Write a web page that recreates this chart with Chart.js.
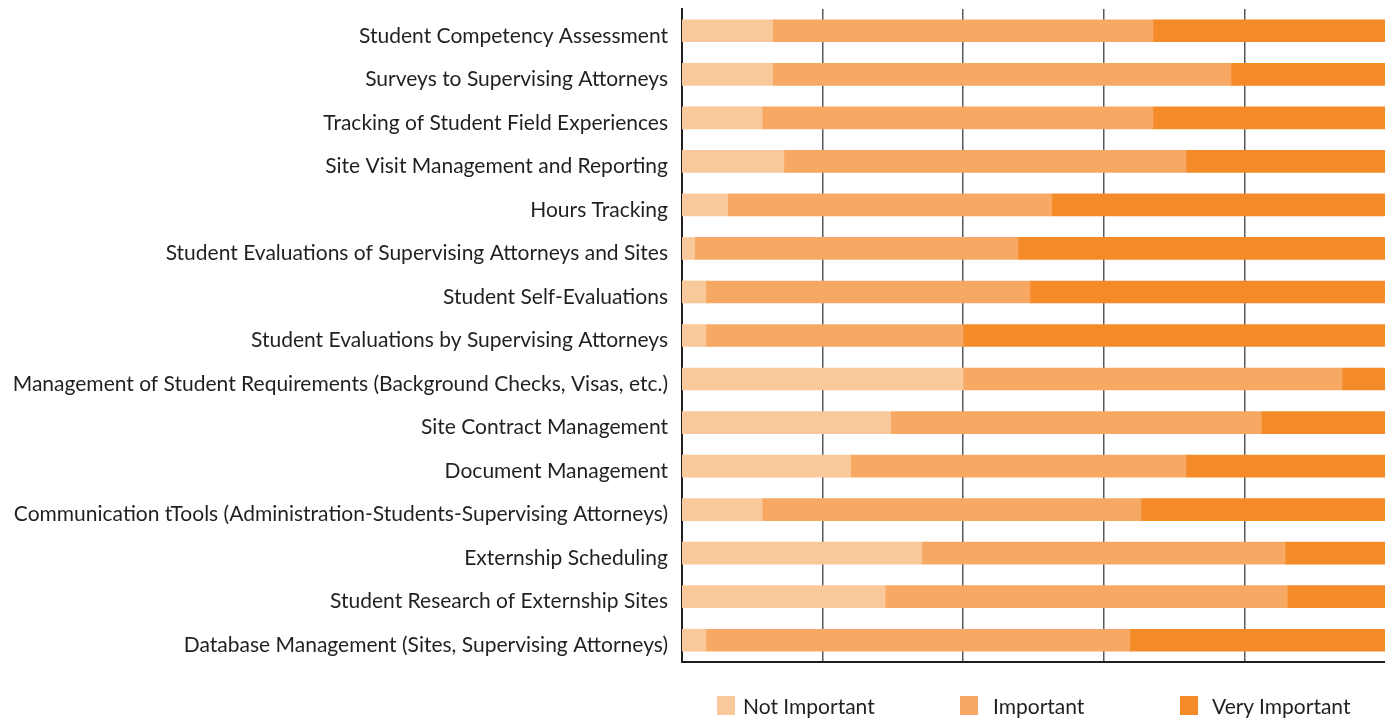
<!DOCTYPE html>
<html>
<head>
<meta charset="utf-8">
<script src="https://cdn.jsdelivr.net/npm/chart.js@4"></script>
<style>
  html, body { margin: 0; padding: 0; background: #fff; }
  #wrap { position: relative; width: 1385px; height: 719px; }
  #legend { position: absolute; top: 693px; left: 0; width: 1385px; height: 26px;
    font-family: Lato, sans-serif; font-size: 21px; color: #231f20; }
  #legend .box { position: absolute; top: 3px; width: 18px; height: 19px; }
  #legend .text { position: absolute; top: 0; line-height: 26px; white-space: nowrap; }
</style>
</head>
<body>
<div id="wrap">
  <canvas id="chart" width="1385" height="719"></canvas>
  <div id="legend"></div>
</div>
<script>
const categories = [
  'Student Competency Assessment',
  'Surveys to Supervising Attorneys',
  'Tracking of Student Field Experiences',
  'Site Visit Management and Reporting',
  'Hours Tracking',
  'Student Evaluations of Supervising Attorneys and Sites',
  'Student Self-Evaluations',
  'Student Evaluations by Supervising Attorneys',
  'Management of Student Requirements (Background Checks, Visas, etc.)',
  'Site Contract Management',
  'Document Management',
  'Communication tTools (Administration-Students-Supervising Attorneys)',
  'Externship Scheduling',
  'Student Research of Externship Sites',
  'Database Management (Sites, Supervising Attorneys)'
]

const notImportant = [12.9, 12.9, 11.4, 14.5, 6.5, 1.8, 3.4, 3.4, 40.0, 29.7, 24.0, 11.4, 34.1, 28.9, 3.4]
const important = [54.1, 65.2, 55.6, 57.2, 46.1, 46.0, 46.1, 36.6, 53.9, 52.7, 47.7, 53.9, 51.7, 57.2, 60.3]
const veryImportant = [33.0, 21.9, 33.0, 28.3, 47.4, 52.2, 50.5, 60.0, 6.1, 17.6, 28.3, 34.7, 14.2, 13.9, 36.3]

const seriesNames = ['Not Important', 'Important', 'Very Important']
const seriesColors = ['#fac99b', '#f7a862', '#f58a28']
const xTicks = [0, 20, 40, 60, 80, 100]

const ink = '#231f20'

const ctx = document.getElementById('chart').getContext('2d')
new Chart(ctx, {
  type: 'bar',
  data: {
    labels: categories,
    datasets: [notImportant, important, veryImportant].map((values, i) => ({
      label: seriesNames[i],
      data: values,
      backgroundColor: seriesColors[i],
      borderWidth: 0,
      barThickness: 22
    }))
  },
  options: {
    indexAxis: 'y',
    responsive: false,
    animation: false,
    layout: { padding: { top: 9, bottom: 57, left: 0, right: 0 } },
    plugins: {
      legend: { display: false },
      tooltip: { enabled: false }
    },
    scales: {
      x: {
        stacked: true,
        min: 0,
        max: 100,
        afterBuildTicks: scale => {
          scale.ticks = xTicks.map(v => ({ value: v }))
        },
        afterFit: scale => { scale.height = 0 },
        ticks: { display: false },
        grid: {
          drawTicks: false,
          color: '#58595b',
          lineWidth: ctx => (ctx.tick && ctx.tick.value > 0 && ctx.tick.value < 100) ? 1.5 : 0
        },
        border: { display: true, color: ink, width: 2 }
      },
      y: {
        stacked: true,
        afterFit: scale => {
          scale.width = 682
          // no extra room for the first/last label halves
          scale.paddingTop = 0
          scale.paddingBottom = 0
        },
        ticks: {
          color: ink,
          padding: 14,
          labelOffset: 5,
          font: { family: 'Lato', size: 21 }
        },
        grid: { display: false, drawTicks: false },
        border: { display: true, color: ink, width: 2 }
      }
    }
  }
})

// legend placed under the plot area
const legendBoxX = [717, 960, 1180]
const legendTextX = [743, 993, 1212]
const legend = document.getElementById('legend')
seriesNames.forEach((name, i) => {
  const box = document.createElement('span')
  box.className = 'box'
  box.style.left = legendBoxX[i] + 'px'
  box.style.background = seriesColors[i]
  legend.appendChild(box)
  const text = document.createElement('span')
  text.className = 'text'
  text.style.left = legendTextX[i] + 'px'
  text.textContent = name
  legend.appendChild(text)
})
</script>
</body>
</html>
